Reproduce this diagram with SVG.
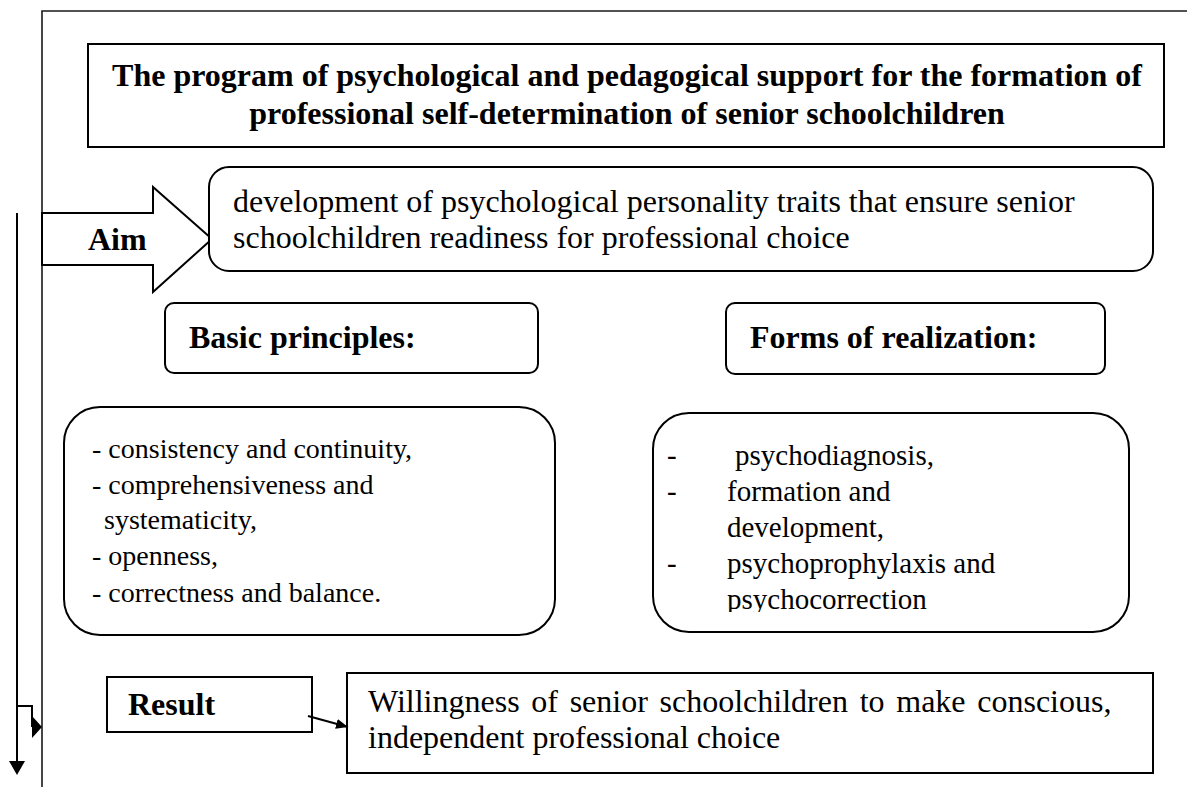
<svg xmlns="http://www.w3.org/2000/svg" width="1187" height="787" viewBox="0 0 1187 787">
  <style>
    .box { fill: #fff; stroke: #000; stroke-width: 2; }
    .frame { fill: none; stroke: #1a1a1a; stroke-width: 1.6; }
    .line { fill: none; stroke: #000; stroke-width: 2; }
    .head { fill: #000; stroke: none; }
    .b32 { font-size: 32px; font-weight: bold; }
    .r32 { font-size: 32px; }
    .r28 { font-size: 28px; }
    .r29 { font-size: 29px; }
  </style>
  <defs>
    <marker id="arrow" viewBox="0 0 12 10" refX="12" refY="5" markerWidth="12" markerHeight="10" markerUnits="userSpaceOnUse" orient="auto">
      <path d="M0 0 L12 5 L0 10 Z" class="head"/>
    </marker>
    <clipPath id="formsClip">
      <rect x="653" y="413" width="476" height="199"/>
    </clipPath>
  </defs>
  <rect width="1187" height="787" fill="#fff"/>

  <!-- outer frame: top and left edges -->
  <g id="frame">
    <path class="frame" d="M42 787 V11 H1187"/>
  </g>

  <g font-family="'Liberation Serif', 'Times New Roman', Times, serif" fill="#000">
  <g id="title">
    <rect class="box" x="88" y="44" width="1076" height="103"/>
    <text class="b32" x="627" y="86" text-anchor="middle">The program of psychological and pedagogical support for the formation of</text>
    <text class="b32" x="627" y="124" text-anchor="middle">professional self-determination of senior schoolchildren</text>
  </g>

  <g id="aim">
    <polygon class="box" points="42,213 153,213 153,187 212,239 153,292 153,265 42,265"/>
    <text class="b32" x="88" y="250">Aim</text>
  </g>

  <g id="aim-text">
    <rect class="box" x="209" y="167" width="944" height="104" rx="20"/>
    <text class="r32" x="233" y="212">development of psychological personality traits that ensure senior</text>
    <text class="r32" x="233" y="248">schoolchildren readiness for professional choice</text>
  </g>

  <g id="principles-head">
    <rect class="box" x="165" y="303" width="373" height="70" rx="9"/>
    <text class="b32" x="189" y="348">Basic principles:</text>
  </g>

  <g id="forms-head">
    <rect class="box" x="726" y="303" width="379" height="71" rx="9"/>
    <text class="b32" x="750" y="348">Forms of realization:</text>
  </g>

  <g id="principles-list">
    <rect class="box" x="64" y="407" width="491" height="228" rx="36"/>
    <text class="r28" x="92" y="458">- consistency and continuity,</text>
    <text class="r28" x="92" y="494">- comprehensiveness and</text>
    <text class="r28" x="104" y="529">systematicity,</text>
    <text class="r28" x="92" y="565">- openness,</text>
    <text class="r28" x="92" y="602">- correctness and balance.</text>
  </g>

  <g id="forms-list">
    <rect class="box" x="653" y="413" width="476" height="219" rx="36"/>
    <g clip-path="url(#formsClip)">
      <text class="r29" x="667" y="465">-</text>
      <text class="r29" x="735" y="465">psychodiagnosis,</text>
      <text class="r29" x="667" y="501">-</text>
      <text class="r29" x="727" y="501">formation and</text>
      <text class="r29" x="727" y="537">development,</text>
      <text class="r29" x="667" y="573">-</text>
      <text class="r29" x="727" y="573">psychoprophylaxis and</text>
      <text class="r29" x="727" y="609">psychocorrection</text>
    </g>
  </g>

  <g id="result">
    <rect class="box" x="107" y="677" width="205" height="55"/>
    <text class="b32" x="128" y="715">Result</text>
  </g>

  <g id="result-text">
    <rect class="box" x="347" y="673" width="806" height="100"/>
    <text class="r32" x="368" y="712" word-spacing="3.7">Willingness of senior schoolchildren to make conscious,</text>
    <text class="r32" x="368" y="748">independent professional choice</text>
  </g>
  </g>

  <g id="connectors">
    <!-- long downward arrow on the left -->
    <line class="line" x1="17" y1="213" x2="17" y2="762"/>
    <polygon class="head" points="9,761 25,761 17,775"/>
    <!-- branch into the frame -->
    <polyline class="line" points="17,706 32,706 32,727"/>
    <polygon class="head" points="32,716 42,727 32,738"/>
    <!-- result to willingness -->
    <line class="line" x1="308" y1="716" x2="348" y2="727" marker-end="url(#arrow)"/>
  </g>
</svg>
